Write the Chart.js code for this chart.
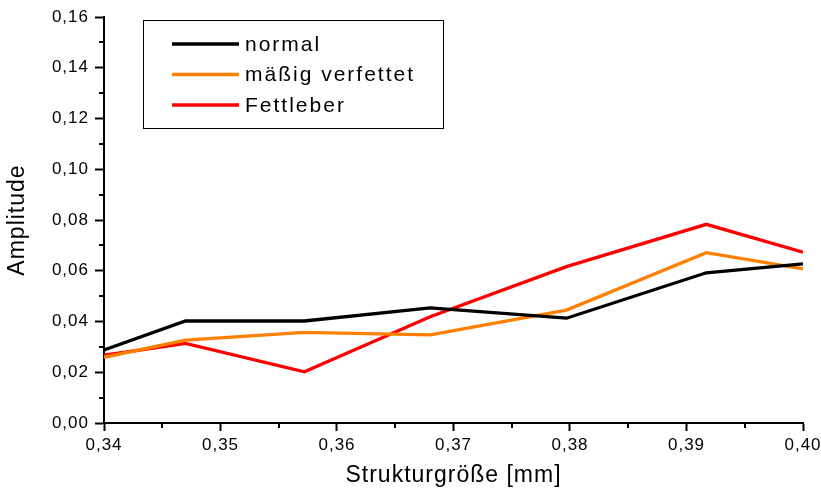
<!DOCTYPE html>
<html>
<head>
<meta charset="utf-8">
<script src="https://cdn.jsdelivr.net/npm/chart.js@4/dist/chart.umd.min.js"></script>
<style>
  html, body { margin: 0; padding: 0; background: #fff; }
  #wrap { width: 821px; height: 491px; position: relative; }
</style>
</head>
<body>
<div id="wrap"><canvas id="chart"></canvas></div>
<script>
// structure sizes (mm) where the amplitude was measured
const strukturgroesse = [0.34, 0.347, 0.3572, 0.368, 0.3797, 0.3917, 0.40];

const normal      = [0.0288, 0.0402, 0.0402, 0.0454, 0.0413, 0.0592, 0.0627];
const maessig     = [0.0259, 0.0327, 0.0357, 0.0347, 0.0445, 0.0671, 0.0607];
const fettleber   = [0.0267, 0.0314, 0.0202, 0.0419, 0.0616, 0.0783, 0.0673];

const seriesNames = ['normal', 'mäßig verfettet', 'Fettleber'];
const xMinorTicks = [0.345, 0.355, 0.365, 0.375, 0.385, 0.395];
const yMinorTicks = [0.01, 0.03, 0.05, 0.07, 0.09, 0.11, 0.13, 0.15];

const colors = {
    black: 'rgb(0, 0, 0)',
    orange: 'rgb(255, 128, 0)',
    red: 'rgb(255, 0, 0)'
};

const FONT = "'Liberation Sans', Arial, sans-serif";
Chart.defaults.font.family = FONT;
Chart.defaults.color = '#000';

function toPoints(ys) {
    return ys.map(function (y, i) { return {x: strukturgroesse[i], y: y}; });
}

function comma(v) {
    return Number(v).toFixed(2).replace('.', ',');
}

// Origin-like wide letter spacing for all axis text
const spacingPlugin = {
    id: 'spacing',
    beforeDraw(chart) { chart.ctx.letterSpacing = '1px'; },
    afterDraw(chart) { chart.ctx.letterSpacing = '0px'; }
};

// short minor ticks between the labelled ones
const minorTicks = {
    id: 'minorTicks',
    afterDraw(chart) {
        const ctx = chart.ctx;
        const xs = chart.scales.x, ys = chart.scales.y;
        ctx.save();
        ctx.strokeStyle = '#000';
        ctx.lineWidth = 2;
        ctx.beginPath();
        for (const v of xMinorTicks) {
            const px = Math.round(xs.getPixelForValue(v));
            ctx.moveTo(px, xs.top);
            ctx.lineTo(px, xs.top + 5);
        }
        for (const v of yMinorTicks) {
            const py = Math.round(ys.getPixelForValue(v));
            ctx.moveTo(ys.right, py);
            ctx.lineTo(ys.right - 5, py);
        }
        ctx.stroke();
        ctx.restore();
    }
};

// boxed legend inside the plot, top left
const boxLegend = {
    id: 'boxLegend',
    afterDraw(chart) {
        const ctx = chart.ctx;
        ctx.save();
        ctx.strokeStyle = '#000';
        ctx.lineWidth = 1;
        ctx.strokeRect(143.5, 20.5, 300, 108);
        ctx.font = '21px ' + FONT;
        ctx.letterSpacing = '2px';
        ctx.textBaseline = 'middle';
        ctx.fillStyle = '#000';
        chart.data.datasets.forEach(function (ds, i) {
            const y = 44 + i * 30.5;
            ctx.beginPath();
            ctx.strokeStyle = ds.borderColor;
            ctx.lineWidth = 3.5;
            ctx.moveTo(172, y);
            ctx.lineTo(239, y);
            ctx.stroke();
            ctx.fillText(ds.label, 245, y + 1);
        });
        ctx.restore();
    }
};

const ctx = document.getElementById('chart').getContext('2d');
const chart = new Chart(ctx, {
    type: 'line',
    data: {
        datasets: [
            {label: seriesNames[0], data: toPoints(normal), borderColor: colors.black, backgroundColor: colors.black},
            {label: seriesNames[1], data: toPoints(maessig), borderColor: colors.orange, backgroundColor: colors.orange},
            {label: seriesNames[2], data: toPoints(fettleber), borderColor: colors.red, backgroundColor: colors.red}
        ]
    },
    options: {
        responsive: true,
        maintainAspectRatio: false,
        animation: false,
        devicePixelRatio: 1,
        elements: {
            line: {borderWidth: 3.3, tension: 0, fill: false, borderJoinStyle: 'miter'},
            point: {radius: 0, hoverRadius: 0}
        },
        layout: {padding: {left: 0, right: 18, top: 17, bottom: 0}},
        plugins: {
            legend: {display: false},
            tooltip: {enabled: false}
        },
        scales: {
            x: {
                type: 'linear',
                min: 0.34,
                max: 0.40,
                afterFit: function (scale) {
                    scale.height = 68;
                    scale.paddingLeft = 0;
                    scale.paddingRight = 0;
                },
                grid: {drawOnChartArea: false, drawTicks: true, tickLength: 8, tickWidth: 2, tickColor: '#000'},
                border: {display: true, color: '#000', width: 2},
                ticks: {
                    stepSize: 0.01,
                    padding: 4,
                    maxRotation: 0,
                    autoSkip: false,
                    font: {size: 17},
                    callback: comma
                },
                title: {
                    display: true,
                    text: 'Strukturgröße [mm]',
                    font: {size: 23, lineHeight: 1.2},
                    padding: {top: 0, bottom: 2}
                }
            },
            y: {
                type: 'linear',
                min: 0,
                max: 0.16,
                afterFit: function (scale) { scale.width = 104; },
                grid: {drawOnChartArea: false, drawTicks: true, tickLength: 9, tickWidth: 2, tickColor: '#000'},
                border: {display: true, color: '#000', width: 2},
                ticks: {
                    stepSize: 0.02,
                    padding: 6,
                    autoSkip: false,
                    font: {size: 17},
                    callback: comma
                },
                title: {
                    display: true,
                    text: 'Amplitude',
                    font: {size: 23, lineHeight: 1.2},
                    padding: {top: 4, bottom: 0}
                }
            }
        }
    },
    plugins: [spacingPlugin, minorTicks, boxLegend]
});
</script>
</body>
</html>
